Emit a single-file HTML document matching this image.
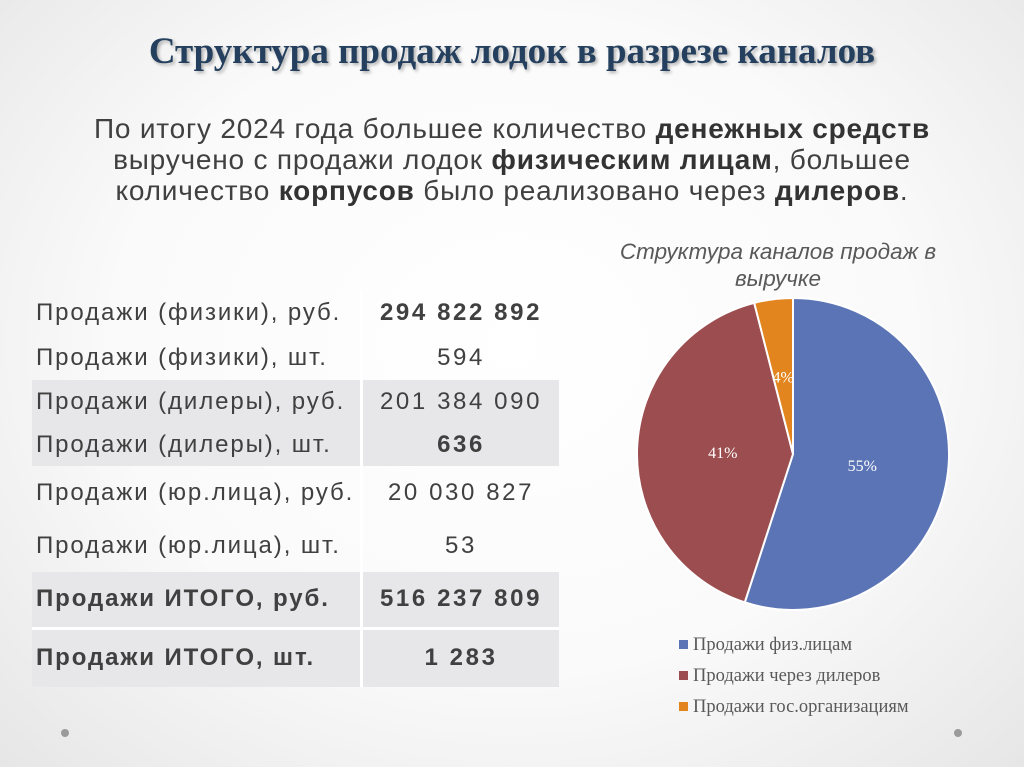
<!DOCTYPE html>
<html><head><meta charset="utf-8">
<style>
body{margin:0;width:1024px;height:767px;overflow:hidden;font-family:"Liberation Sans",sans-serif;
background:radial-gradient(ellipse at 50% 45%,#ffffff 0%,#fafafa 55%,#e6e6e6 100%);position:relative}
#title{position:absolute;left:0;width:1024px;top:30px;text-align:center;font-family:"Liberation Serif",serif;font-size:37px;font-weight:bold;color:#24405e;text-shadow:2px 2px 3px rgba(0,0,0,0.3)}
#sub{position:absolute;left:0;top:113px;width:1024px;text-align:center;font-size:28px;letter-spacing:0.8px;line-height:31px;color:#404040}
#sub b{color:#333}
table{position:absolute;left:32px;top:290px;border-collapse:collapse;font-size:24px;letter-spacing:1.9px;color:#404040}
td{padding:0 0 0 4px;white-space:nowrap}
td.v{text-align:center;width:196px;border-left:3px solid #fff;letter-spacing:2.6px;padding:0}
tr.g td{background:#e7e7e9}
.b{font-weight:bold}
#ctitle{position:absolute;left:568px;top:238px;width:420px;text-align:center;font-style:italic;font-size:22.5px;line-height:27px;color:#595959}
.dot{position:absolute;width:8px;height:8px;border-radius:50%;background:#9a9a9a;top:729px}
</style></head><body>
<div id="title">Структура продаж лодок в разрезе каналов</div>
<div id="sub">По итогу 2024 года большее количество <b>денежных средств</b><br>выручено с продажи лодок <b>физическим лицам</b>, большее<br>количество <b>корпусов</b> было реализовано через <b>дилеров</b>.</div>
<table>
<tr style="height:46px"><td style="width:324px">Продажи (физики), руб.</td><td class="v b">294 822 892</td></tr>
<tr style="height:44px"><td>Продажи (физики), шт.</td><td class="v">594</td></tr>
<tr class="g" style="height:43px"><td>Продажи (дилеры), руб.</td><td class="v">201 384 090</td></tr>
<tr class="g" style="height:43px"><td>Продажи (дилеры), шт.</td><td class="v b">636</td></tr>
<tr style="height:54px"><td>Продажи (юр.лица), руб.</td><td class="v">20 030 827</td></tr>
<tr style="height:52px"><td>Продажи (юр.лица), шт.</td><td class="v">53</td></tr>
<tr class="g b" style="height:56px"><td>Продажи ИТОГО, руб.</td><td class="v">516 237 809</td></tr>
<tr class="g b" style="height:59px;border-top:3px solid #fff"><td>Продажи ИТОГО, шт.</td><td class="v">1 283</td></tr>
</table>
<div id="ctitle">Структура каналов продаж в<br>выручке</div>
<svg id="pie" width="1024" height="767" style="position:absolute;left:0;top:0"></svg>
<div class="dot" style="left:61px"></div>
<div class="dot" style="left:954px"></div>
<script>
const categories=["Продажи физ.лицам","Продажи через дилеров","Продажи гос.организациям"];
const values=[55,41,4];
const labels=["55%","41%","4%"];
const colors=["#5b74b5","#9c4d4f","#e2851f"];
const svg=document.getElementById('pie');const NS="http://www.w3.org/2000/svg";
const cx=793,cy=454,r=156;
const total=values.reduce((a,b)=>a+b,0);
let a0=0;
function pt(a,rr){return [cx+rr*Math.sin(a),cy-rr*Math.cos(a)];}
values.forEach((v,i)=>{
 const a1=a0+v/total*2*Math.PI;
 const p0=pt(a0,r),p1=pt(a1,r);
 const p=document.createElementNS(NS,'path');
 p.setAttribute('d',`M${cx},${cy}L${p0[0]},${p0[1]}A${r},${r} 0 ${a1-a0>Math.PI?1:0} 1 ${p1[0]},${p1[1]}Z`);
 p.setAttribute('fill',colors[i]);p.setAttribute('stroke','#fff');p.setAttribute('stroke-width','2');
 
 
 svg.appendChild(p);
 const m=(a0+a1)/2;const lp=pt(m,i==2?r*0.5:r*0.45);
 const t=document.createElementNS(NS,'text');
 t.setAttribute('x',lp[0]);t.setAttribute('y',lp[1]+6);t.setAttribute('text-anchor','middle');
 t.setAttribute('font-family','Liberation Serif,serif');t.setAttribute('font-size','16');t.setAttribute('fill','#fff');
 t.textContent=labels[i];
 
 
 svg.appendChild(t);
 a0=a1;
});
categories.forEach((c,i)=>{
 const y=650+i*31;
 const s=document.createElementNS(NS,'rect');
 s.setAttribute('x',679);s.setAttribute('y',y-10);s.setAttribute('width',9);s.setAttribute('height',9);s.setAttribute('fill',colors[i]);
 
 
 svg.appendChild(s);
 const t=document.createElementNS(NS,'text');
 t.setAttribute('x',693);t.setAttribute('y',y);t.setAttribute('font-family','Liberation Serif,serif');t.setAttribute('font-size','18.5');t.setAttribute('fill','#595959');
 t.textContent=c;
 
 
 svg.appendChild(t);
});
</script>
</body></html>
